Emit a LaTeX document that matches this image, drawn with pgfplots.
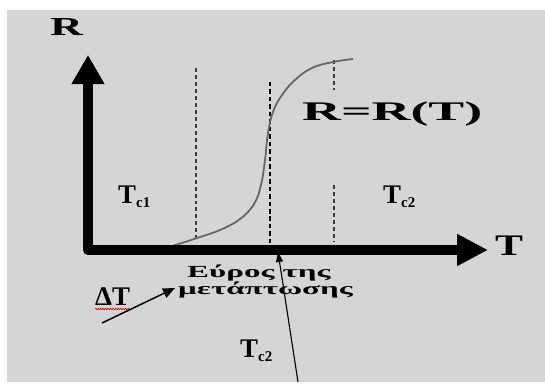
\documentclass[border=0pt]{standalone}
\usepackage{pgfplots}
\pgfplotsset{compat=1.18}
\usepackage{fontspec}
\setmainfont{Liberation Serif}
\newfontfamily\wideR[FakeStretch=1.75]{Liberation Serif}
\newfontfamily\wideEq[FakeStretch=2.0]{Liberation Serif}
\newfontfamily\wideT[FakeStretch=1.4]{Liberation Serif}
\newfontfamily\wideGr[FakeStretch=1.95]{Liberation Serif}
\usetikzlibrary{arrows.meta,decorations.pathmorphing}
\definecolor{bg}{HTML}{D5D5D5}
\definecolor{curvecol}{HTML}{666666}
\definecolor{dashg}{HTML}{3A3A3A}
\begin{document}
\begin{tikzpicture}
\begin{axis}[width=545bp,height=389bp,scale only axis,
  xmin=0,xmax=545,ymin=0,ymax=389,y dir=reverse,hide axis,clip=false]
\fill[white] (axis cs:0,0) rectangle (axis cs:545,389);
\fill[bg] (axis cs:7,10) rectangle (axis cs:545,382);
% dashed guide lines
\draw[dashg, line width=3pt, dash pattern=on 4pt off 3pt] (axis cs:196,68) -- (axis cs:196,240);
\addplot[draw=black, line width=1.2pt, dash pattern=on 4.5pt off 3pt] coordinates {(270,82) (270,247)};
\draw[dashg, line width=3pt, dash pattern=on 4pt off 3pt] (axis cs:334,60) -- (axis cs:334,90);
\draw[dashg, line width=3pt, dash pattern=on 4pt off 3pt] (axis cs:334,185) -- (axis cs:334,242);
% R(T) curve
\addplot[draw=curvecol, line width=1.8pt, smooth, tension=0.7] coordinates {(172,246) (182,243) (197,238) (220,230) (240,219) (254,204) (261,185) (265,160) (268,133) (273,112) (282,95) (295,80) (312,68) (333,62) (353,59)};
% axes
\draw[line width=10bp, line join=round, {Triangle[length=29bp,width=31bp]}-{Triangle[length=31bp,width=30bp]}]
  (axis cs:88,55) -- (axis cs:88,250) -- (axis cs:488,250);
% labels
\node[anchor=base west, inner sep=0, font=\wideR\bfseries\fontsize{26}{26}\selectfont] at (axis cs:50,35) {R};
\node[anchor=base west, inner sep=0, font=\wideT\bfseries\fontsize{30}{30}\selectfont] at (axis cs:495,255) {T};
\node[anchor=base west, inner sep=0, font=\wideEq\bfseries\fontsize{27}{27}\selectfont] at (axis cs:302,120) {R=R(T)};
\node[anchor=base west, inner sep=0, font=\bfseries\fontsize{27}{27}\selectfont] at (axis cs:118,203) {T\raisebox{-4.5pt}{\fontsize{15}{15}\selectfont c1}};
\node[anchor=base west, inner sep=0, font=\bfseries\fontsize{27}{27}\selectfont] at (axis cs:383,203) {T\raisebox{-4.5pt}{\fontsize{15}{15}\selectfont c2}};
\node[anchor=base west, inner sep=0, font=\bfseries\fontsize{27}{27}\selectfont] at (axis cs:240,357) {T\raisebox{-4.5pt}{\fontsize{15}{15}\selectfont c2}};
\node[anchor=base west, inner sep=0, font=\bfseries\fontsize{27}{27}\selectfont] at (axis cs:95,305) {ΔT};
\draw[red!80!black, line width=0.6pt, decorate, decoration={snake, amplitude=0.7pt, segment length=2.5pt}] (axis cs:95,309) -- (axis cs:130,309);
\node[anchor=base west, inner sep=0, font=\wideGr\bfseries\fontsize{17}{17}\selectfont] at (axis cs:187,277) {Εύρος της};
\node[anchor=base west, inner sep=0, font=\wideGr\bfseries\fontsize{17}{17}\selectfont] at (axis cs:178,294) {μετάπτωσης};
% annotation arrows
\draw[line width=1.5pt, -{Triangle[length=12bp,width=10bp]}] (axis cs:102,323) -- (axis cs:175,288);
\draw[line width=1.1pt, -{Triangle[length=10bp,width=7bp]}] (axis cs:298,382) -- (axis cs:278,252);
\end{axis}
\end{tikzpicture}
\end{document}
